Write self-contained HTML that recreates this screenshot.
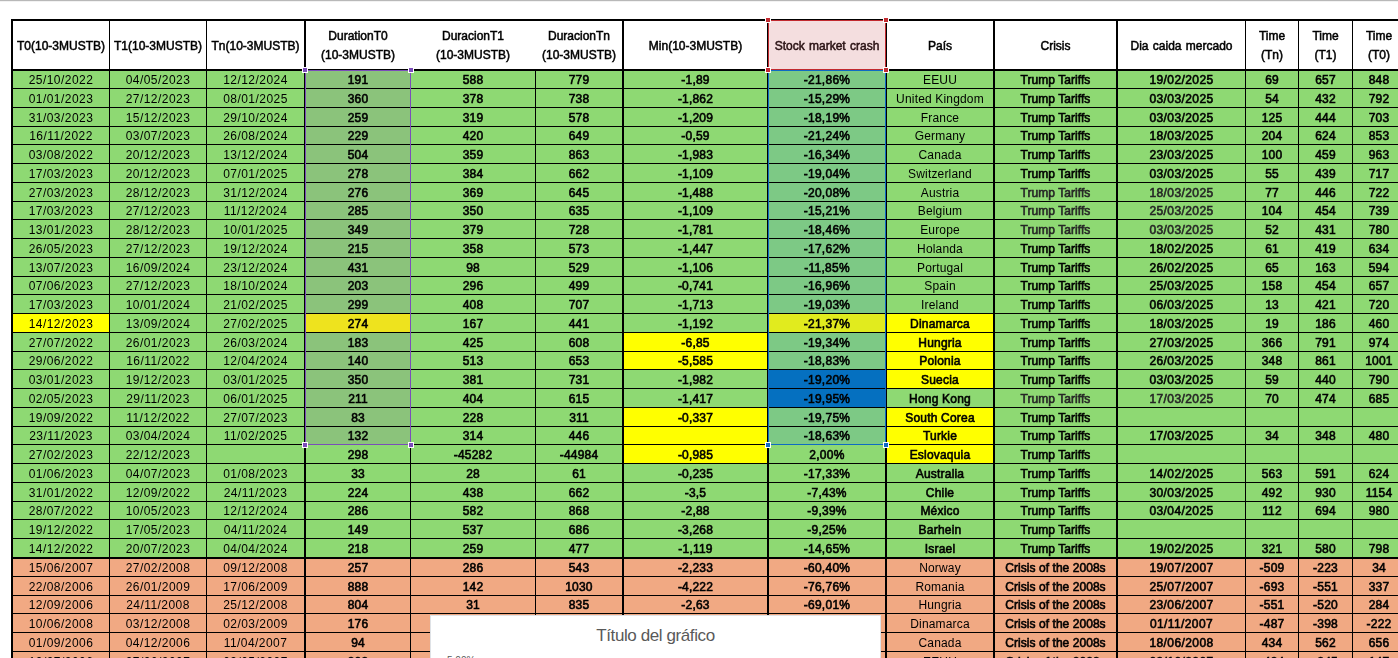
<!DOCTYPE html><html><head><meta charset="utf-8"><style>
*{margin:0;padding:0;box-sizing:border-box}
html,body{width:1398px;height:658px;overflow:hidden;background:#fff}
body{position:relative;font-family:"Liberation Sans",sans-serif;font-size:12px;color:#000}
.a{position:absolute}
.r{position:absolute;left:13px;width:1392px}
.t{position:absolute;top:1px;will-change:transform;text-align:center;white-space:nowrap;font-weight:normal;-webkit-text-stroke:0.6px #000;letter-spacing:-0.3px}
.d{font-weight:normal;-webkit-text-stroke:0;letter-spacing:0.3px}
.n{font-weight:normal;-webkit-text-stroke:0;letter-spacing:-0.1px}
.h{position:absolute;will-change:transform;top:21px;height:48px;padding-top:2px;display:flex;align-items:center;justify-content:center;text-align:center;font-weight:normal;-webkit-text-stroke:0.5px #000;line-height:19px;letter-spacing:0px;word-spacing:1px;white-space:nowrap}
.bk{position:absolute;background:#000}
.hd{position:absolute;background:#fff;border:1px solid #fff}

</style></head><body>
<div class="a" style="left:0;top:0;width:1398px;height:1px;background:#b8b8b8"></div>
<div class="a" style="left:0;top:1px;width:1398px;height:1px;background:#f2f2f2"></div>
<div class="r" style="top:71px;height:17px;background:#8ED973">
<div class="a" style="left:293px;top:0;width:104px;height:17px;background:#8BC37B"></div>
<div class="a" style="left:756px;top:0;width:116px;height:17px;background:#7DC985"></div>
<div class="t d" style="left:0px;width:96px;line-height:17px;letter-spacing:0.45px">25/10/2022</div>
<div class="t d" style="left:97px;width:96px;line-height:17px;letter-spacing:0.45px">04/05/2023</div>
<div class="t d" style="left:194px;width:97px;line-height:17px;letter-spacing:0.45px">12/12/2024</div>
<div class="t" style="left:293px;width:104px;line-height:17px;letter-spacing:0.2px">191</div>
<div class="t" style="left:398px;width:124px;line-height:17px;letter-spacing:0.2px">588</div>
<div class="t" style="left:523px;width:86px;line-height:17px;letter-spacing:0.2px">779</div>
<div class="t" style="left:611px;width:143px;line-height:17px;letter-spacing:0.2px">-1,89</div>
<div class="t" style="left:756px;width:116px;line-height:17px;letter-spacing:0.27px">-21,86%</div>
<div class="t n" style="left:874px;width:106px;line-height:17px;letter-spacing:0.17px">EEUU</div>
<div class="t" style="left:982px;width:121px;line-height:17px;letter-spacing:0.05px">Trump Tariffs</div>
<div class="t" style="left:1105px;width:127px;line-height:17px;letter-spacing:0.4px">19/02/2025</div>
<div class="t" style="left:1233px;width:52px;line-height:17px;letter-spacing:0.2px">69</div>
<div class="t" style="left:1286px;width:53px;line-height:17px;letter-spacing:0.2px">657</div>
<div class="t" style="left:1340px;width:52px;line-height:17px;letter-spacing:0.2px">848</div>
</div>
<div class="r" style="top:89px;height:18px;background:#8ED973">
<div class="a" style="left:293px;top:0;width:104px;height:18px;background:#8BC37B"></div>
<div class="a" style="left:756px;top:0;width:116px;height:18px;background:#7DC985"></div>
<div class="t d" style="left:0px;width:96px;line-height:18px;letter-spacing:0.45px">01/01/2023</div>
<div class="t d" style="left:97px;width:96px;line-height:18px;letter-spacing:0.45px">27/12/2023</div>
<div class="t d" style="left:194px;width:97px;line-height:18px;letter-spacing:0.45px">08/01/2025</div>
<div class="t" style="left:293px;width:104px;line-height:18px;letter-spacing:0.2px">360</div>
<div class="t" style="left:398px;width:124px;line-height:18px;letter-spacing:0.2px">378</div>
<div class="t" style="left:523px;width:86px;line-height:18px;letter-spacing:0.2px">738</div>
<div class="t" style="left:611px;width:143px;line-height:18px;letter-spacing:0.2px">-1,862</div>
<div class="t" style="left:756px;width:116px;line-height:18px;letter-spacing:0.27px">-15,29%</div>
<div class="t n" style="left:874px;width:106px;line-height:18px;letter-spacing:0.17px">United Kingdom</div>
<div class="t" style="left:982px;width:121px;line-height:18px;letter-spacing:0.05px">Trump Tariffs</div>
<div class="t" style="left:1105px;width:127px;line-height:18px;letter-spacing:0.4px">03/03/2025</div>
<div class="t" style="left:1233px;width:52px;line-height:18px;letter-spacing:0.2px">54</div>
<div class="t" style="left:1286px;width:53px;line-height:18px;letter-spacing:0.2px">432</div>
<div class="t" style="left:1340px;width:52px;line-height:18px;letter-spacing:0.2px">792</div>
</div>
<div class="r" style="top:108px;height:18px;background:#8ED973">
<div class="a" style="left:293px;top:0;width:104px;height:18px;background:#8BC37B"></div>
<div class="a" style="left:756px;top:0;width:116px;height:18px;background:#7DC985"></div>
<div class="t d" style="left:0px;width:96px;line-height:18px;letter-spacing:0.45px">31/03/2023</div>
<div class="t d" style="left:97px;width:96px;line-height:18px;letter-spacing:0.45px">15/12/2023</div>
<div class="t d" style="left:194px;width:97px;line-height:18px;letter-spacing:0.45px">29/10/2024</div>
<div class="t" style="left:293px;width:104px;line-height:18px;letter-spacing:0.2px">259</div>
<div class="t" style="left:398px;width:124px;line-height:18px;letter-spacing:0.2px">319</div>
<div class="t" style="left:523px;width:86px;line-height:18px;letter-spacing:0.2px">578</div>
<div class="t" style="left:611px;width:143px;line-height:18px;letter-spacing:0.2px">-1,209</div>
<div class="t" style="left:756px;width:116px;line-height:18px;letter-spacing:0.27px">-18,19%</div>
<div class="t n" style="left:874px;width:106px;line-height:18px;letter-spacing:0.17px">France</div>
<div class="t" style="left:982px;width:121px;line-height:18px;letter-spacing:0.05px">Trump Tariffs</div>
<div class="t" style="left:1105px;width:127px;line-height:18px;letter-spacing:0.4px">03/03/2025</div>
<div class="t" style="left:1233px;width:52px;line-height:18px;letter-spacing:0.2px">125</div>
<div class="t" style="left:1286px;width:53px;line-height:18px;letter-spacing:0.2px">444</div>
<div class="t" style="left:1340px;width:52px;line-height:18px;letter-spacing:0.2px">703</div>
</div>
<div class="r" style="top:127px;height:17px;background:#8ED973">
<div class="a" style="left:293px;top:0;width:104px;height:17px;background:#8BC37B"></div>
<div class="a" style="left:756px;top:0;width:116px;height:17px;background:#7DC985"></div>
<div class="t d" style="left:0px;width:96px;line-height:17px;letter-spacing:0.45px">16/11/2022</div>
<div class="t d" style="left:97px;width:96px;line-height:17px;letter-spacing:0.45px">03/07/2023</div>
<div class="t d" style="left:194px;width:97px;line-height:17px;letter-spacing:0.45px">26/08/2024</div>
<div class="t" style="left:293px;width:104px;line-height:17px;letter-spacing:0.2px">229</div>
<div class="t" style="left:398px;width:124px;line-height:17px;letter-spacing:0.2px">420</div>
<div class="t" style="left:523px;width:86px;line-height:17px;letter-spacing:0.2px">649</div>
<div class="t" style="left:611px;width:143px;line-height:17px;letter-spacing:0.2px">-0,59</div>
<div class="t" style="left:756px;width:116px;line-height:17px;letter-spacing:0.27px">-21,24%</div>
<div class="t n" style="left:874px;width:106px;line-height:17px;letter-spacing:0.17px">Germany</div>
<div class="t" style="left:982px;width:121px;line-height:17px;letter-spacing:0.05px">Trump Tariffs</div>
<div class="t" style="left:1105px;width:127px;line-height:17px;letter-spacing:0.4px">18/03/2025</div>
<div class="t" style="left:1233px;width:52px;line-height:17px;letter-spacing:0.2px">204</div>
<div class="t" style="left:1286px;width:53px;line-height:17px;letter-spacing:0.2px">624</div>
<div class="t" style="left:1340px;width:52px;line-height:17px;letter-spacing:0.2px">853</div>
</div>
<div class="r" style="top:145px;height:18px;background:#8ED973">
<div class="a" style="left:293px;top:0;width:104px;height:18px;background:#8BC37B"></div>
<div class="a" style="left:756px;top:0;width:116px;height:18px;background:#7DC985"></div>
<div class="t d" style="left:0px;width:96px;line-height:18px;letter-spacing:0.45px">03/08/2022</div>
<div class="t d" style="left:97px;width:96px;line-height:18px;letter-spacing:0.45px">20/12/2023</div>
<div class="t d" style="left:194px;width:97px;line-height:18px;letter-spacing:0.45px">13/12/2024</div>
<div class="t" style="left:293px;width:104px;line-height:18px;letter-spacing:0.2px">504</div>
<div class="t" style="left:398px;width:124px;line-height:18px;letter-spacing:0.2px">359</div>
<div class="t" style="left:523px;width:86px;line-height:18px;letter-spacing:0.2px">863</div>
<div class="t" style="left:611px;width:143px;line-height:18px;letter-spacing:0.2px">-1,983</div>
<div class="t" style="left:756px;width:116px;line-height:18px;letter-spacing:0.27px">-16,34%</div>
<div class="t n" style="left:874px;width:106px;line-height:18px;letter-spacing:0.17px">Canada</div>
<div class="t" style="left:982px;width:121px;line-height:18px;letter-spacing:0.05px">Trump Tariffs</div>
<div class="t" style="left:1105px;width:127px;line-height:18px;letter-spacing:0.4px">23/03/2025</div>
<div class="t" style="left:1233px;width:52px;line-height:18px;letter-spacing:0.2px">100</div>
<div class="t" style="left:1286px;width:53px;line-height:18px;letter-spacing:0.2px">459</div>
<div class="t" style="left:1340px;width:52px;line-height:18px;letter-spacing:0.2px">963</div>
</div>
<div class="r" style="top:164px;height:18px;background:#8ED973">
<div class="a" style="left:293px;top:0;width:104px;height:18px;background:#8BC37B"></div>
<div class="a" style="left:756px;top:0;width:116px;height:18px;background:#7DC985"></div>
<div class="t d" style="left:0px;width:96px;line-height:18px;letter-spacing:0.45px">17/03/2023</div>
<div class="t d" style="left:97px;width:96px;line-height:18px;letter-spacing:0.45px">20/12/2023</div>
<div class="t d" style="left:194px;width:97px;line-height:18px;letter-spacing:0.45px">07/01/2025</div>
<div class="t" style="left:293px;width:104px;line-height:18px;letter-spacing:0.2px">278</div>
<div class="t" style="left:398px;width:124px;line-height:18px;letter-spacing:0.2px">384</div>
<div class="t" style="left:523px;width:86px;line-height:18px;letter-spacing:0.2px">662</div>
<div class="t" style="left:611px;width:143px;line-height:18px;letter-spacing:0.2px">-1,109</div>
<div class="t" style="left:756px;width:116px;line-height:18px;letter-spacing:0.27px">-19,04%</div>
<div class="t n" style="left:874px;width:106px;line-height:18px;letter-spacing:0.17px">Switzerland</div>
<div class="t" style="left:982px;width:121px;line-height:18px;letter-spacing:0.05px">Trump Tariffs</div>
<div class="t" style="left:1105px;width:127px;line-height:18px;letter-spacing:0.4px">03/03/2025</div>
<div class="t" style="left:1233px;width:52px;line-height:18px;letter-spacing:0.2px">55</div>
<div class="t" style="left:1286px;width:53px;line-height:18px;letter-spacing:0.2px">439</div>
<div class="t" style="left:1340px;width:52px;line-height:18px;letter-spacing:0.2px">717</div>
</div>
<div class="r" style="top:183px;height:18px;background:#8ED973">
<div class="a" style="left:293px;top:0;width:104px;height:18px;background:#8BC37B"></div>
<div class="a" style="left:756px;top:0;width:116px;height:18px;background:#7DC985"></div>
<div class="t d" style="left:0px;width:96px;line-height:18px;letter-spacing:0.45px">27/03/2023</div>
<div class="t d" style="left:97px;width:96px;line-height:18px;letter-spacing:0.45px">28/12/2023</div>
<div class="t d" style="left:194px;width:97px;line-height:18px;letter-spacing:0.45px">31/12/2024</div>
<div class="t" style="left:293px;width:104px;line-height:18px;letter-spacing:0.2px">276</div>
<div class="t" style="left:398px;width:124px;line-height:18px;letter-spacing:0.2px">369</div>
<div class="t" style="left:523px;width:86px;line-height:18px;letter-spacing:0.2px">645</div>
<div class="t" style="left:611px;width:143px;line-height:18px;letter-spacing:0.2px">-1,488</div>
<div class="t" style="left:756px;width:116px;line-height:18px;letter-spacing:0.27px">-20,08%</div>
<div class="t n" style="left:874px;width:106px;line-height:18px;letter-spacing:0.17px">Austria</div>
<div class="t" style="left:982px;width:121px;line-height:18px;letter-spacing:0.05px;color:#262626;-webkit-text-stroke-color:#262626">Trump Tariffs</div>
<div class="t" style="left:1105px;width:127px;line-height:18px;letter-spacing:0.4px;color:#262626;-webkit-text-stroke-color:#262626">18/03/2025</div>
<div class="t" style="left:1233px;width:52px;line-height:18px;letter-spacing:0.2px">77</div>
<div class="t" style="left:1286px;width:53px;line-height:18px;letter-spacing:0.2px">446</div>
<div class="t" style="left:1340px;width:52px;line-height:18px;letter-spacing:0.2px">722</div>
</div>
<div class="r" style="top:202px;height:17px;background:#8ED973">
<div class="a" style="left:293px;top:0;width:104px;height:17px;background:#8BC37B"></div>
<div class="a" style="left:756px;top:0;width:116px;height:17px;background:#7DC985"></div>
<div class="t d" style="left:0px;width:96px;line-height:17px;letter-spacing:0.45px">17/03/2023</div>
<div class="t d" style="left:97px;width:96px;line-height:17px;letter-spacing:0.45px">27/12/2023</div>
<div class="t d" style="left:194px;width:97px;line-height:17px;letter-spacing:0.45px">11/12/2024</div>
<div class="t" style="left:293px;width:104px;line-height:17px;letter-spacing:0.2px">285</div>
<div class="t" style="left:398px;width:124px;line-height:17px;letter-spacing:0.2px">350</div>
<div class="t" style="left:523px;width:86px;line-height:17px;letter-spacing:0.2px">635</div>
<div class="t" style="left:611px;width:143px;line-height:17px;letter-spacing:0.2px">-1,109</div>
<div class="t" style="left:756px;width:116px;line-height:17px;letter-spacing:0.27px">-15,21%</div>
<div class="t n" style="left:874px;width:106px;line-height:17px;letter-spacing:0.17px">Belgium</div>
<div class="t" style="left:982px;width:121px;line-height:17px;letter-spacing:0.05px;color:#262626;-webkit-text-stroke-color:#262626">Trump Tariffs</div>
<div class="t" style="left:1105px;width:127px;line-height:17px;letter-spacing:0.4px;color:#262626;-webkit-text-stroke-color:#262626">25/03/2025</div>
<div class="t" style="left:1233px;width:52px;line-height:17px;letter-spacing:0.2px">104</div>
<div class="t" style="left:1286px;width:53px;line-height:17px;letter-spacing:0.2px">454</div>
<div class="t" style="left:1340px;width:52px;line-height:17px;letter-spacing:0.2px">739</div>
</div>
<div class="r" style="top:220px;height:18px;background:#8ED973">
<div class="a" style="left:293px;top:0;width:104px;height:18px;background:#8BC37B"></div>
<div class="a" style="left:756px;top:0;width:116px;height:18px;background:#7DC985"></div>
<div class="t d" style="left:0px;width:96px;line-height:18px;letter-spacing:0.45px">13/01/2023</div>
<div class="t d" style="left:97px;width:96px;line-height:18px;letter-spacing:0.45px">28/12/2023</div>
<div class="t d" style="left:194px;width:97px;line-height:18px;letter-spacing:0.45px">10/01/2025</div>
<div class="t" style="left:293px;width:104px;line-height:18px;letter-spacing:0.2px">349</div>
<div class="t" style="left:398px;width:124px;line-height:18px;letter-spacing:0.2px">379</div>
<div class="t" style="left:523px;width:86px;line-height:18px;letter-spacing:0.2px">728</div>
<div class="t" style="left:611px;width:143px;line-height:18px;letter-spacing:0.2px">-1,781</div>
<div class="t" style="left:756px;width:116px;line-height:18px;letter-spacing:0.27px">-18,46%</div>
<div class="t n" style="left:874px;width:106px;line-height:18px;letter-spacing:0.17px">Europe</div>
<div class="t" style="left:982px;width:121px;line-height:18px;letter-spacing:0.05px;color:#262626;-webkit-text-stroke-color:#262626">Trump Tariffs</div>
<div class="t" style="left:1105px;width:127px;line-height:18px;letter-spacing:0.4px;color:#262626;-webkit-text-stroke-color:#262626">03/03/2025</div>
<div class="t" style="left:1233px;width:52px;line-height:18px;letter-spacing:0.2px">52</div>
<div class="t" style="left:1286px;width:53px;line-height:18px;letter-spacing:0.2px">431</div>
<div class="t" style="left:1340px;width:52px;line-height:18px;letter-spacing:0.2px">780</div>
</div>
<div class="r" style="top:239px;height:18px;background:#8ED973">
<div class="a" style="left:293px;top:0;width:104px;height:18px;background:#8BC37B"></div>
<div class="a" style="left:756px;top:0;width:116px;height:18px;background:#7DC985"></div>
<div class="t d" style="left:0px;width:96px;line-height:18px;letter-spacing:0.45px">26/05/2023</div>
<div class="t d" style="left:97px;width:96px;line-height:18px;letter-spacing:0.45px">27/12/2023</div>
<div class="t d" style="left:194px;width:97px;line-height:18px;letter-spacing:0.45px">19/12/2024</div>
<div class="t" style="left:293px;width:104px;line-height:18px;letter-spacing:0.2px">215</div>
<div class="t" style="left:398px;width:124px;line-height:18px;letter-spacing:0.2px">358</div>
<div class="t" style="left:523px;width:86px;line-height:18px;letter-spacing:0.2px">573</div>
<div class="t" style="left:611px;width:143px;line-height:18px;letter-spacing:0.2px">-1,447</div>
<div class="t" style="left:756px;width:116px;line-height:18px;letter-spacing:0.27px">-17,62%</div>
<div class="t n" style="left:874px;width:106px;line-height:18px;letter-spacing:0.17px">Holanda</div>
<div class="t" style="left:982px;width:121px;line-height:18px;letter-spacing:0.05px">Trump Tariffs</div>
<div class="t" style="left:1105px;width:127px;line-height:18px;letter-spacing:0.4px">18/02/2025</div>
<div class="t" style="left:1233px;width:52px;line-height:18px;letter-spacing:0.2px">61</div>
<div class="t" style="left:1286px;width:53px;line-height:18px;letter-spacing:0.2px">419</div>
<div class="t" style="left:1340px;width:52px;line-height:18px;letter-spacing:0.2px">634</div>
</div>
<div class="r" style="top:258px;height:18px;background:#8ED973">
<div class="a" style="left:293px;top:0;width:104px;height:18px;background:#8BC37B"></div>
<div class="a" style="left:756px;top:0;width:116px;height:18px;background:#7DC985"></div>
<div class="t d" style="left:0px;width:96px;line-height:18px;letter-spacing:0.45px">13/07/2023</div>
<div class="t d" style="left:97px;width:96px;line-height:18px;letter-spacing:0.45px">16/09/2024</div>
<div class="t d" style="left:194px;width:97px;line-height:18px;letter-spacing:0.45px">23/12/2024</div>
<div class="t" style="left:293px;width:104px;line-height:18px;letter-spacing:0.2px">431</div>
<div class="t" style="left:398px;width:124px;line-height:18px;letter-spacing:0.2px">98</div>
<div class="t" style="left:523px;width:86px;line-height:18px;letter-spacing:0.2px">529</div>
<div class="t" style="left:611px;width:143px;line-height:18px;letter-spacing:0.2px">-1,106</div>
<div class="t" style="left:756px;width:116px;line-height:18px;letter-spacing:0.27px">-11,85%</div>
<div class="t n" style="left:874px;width:106px;line-height:18px;letter-spacing:0.17px">Portugal</div>
<div class="t" style="left:982px;width:121px;line-height:18px;letter-spacing:0.05px">Trump Tariffs</div>
<div class="t" style="left:1105px;width:127px;line-height:18px;letter-spacing:0.4px">26/02/2025</div>
<div class="t" style="left:1233px;width:52px;line-height:18px;letter-spacing:0.2px">65</div>
<div class="t" style="left:1286px;width:53px;line-height:18px;letter-spacing:0.2px">163</div>
<div class="t" style="left:1340px;width:52px;line-height:18px;letter-spacing:0.2px">594</div>
</div>
<div class="r" style="top:277px;height:17px;background:#8ED973">
<div class="a" style="left:293px;top:0;width:104px;height:17px;background:#8BC37B"></div>
<div class="a" style="left:756px;top:0;width:116px;height:17px;background:#7DC985"></div>
<div class="t d" style="left:0px;width:96px;line-height:17px;letter-spacing:0.45px">07/06/2023</div>
<div class="t d" style="left:97px;width:96px;line-height:17px;letter-spacing:0.45px">27/12/2023</div>
<div class="t d" style="left:194px;width:97px;line-height:17px;letter-spacing:0.45px">18/10/2024</div>
<div class="t" style="left:293px;width:104px;line-height:17px;letter-spacing:0.2px">203</div>
<div class="t" style="left:398px;width:124px;line-height:17px;letter-spacing:0.2px">296</div>
<div class="t" style="left:523px;width:86px;line-height:17px;letter-spacing:0.2px">499</div>
<div class="t" style="left:611px;width:143px;line-height:17px;letter-spacing:0.2px">-0,741</div>
<div class="t" style="left:756px;width:116px;line-height:17px;letter-spacing:0.27px">-16,96%</div>
<div class="t n" style="left:874px;width:106px;line-height:17px;letter-spacing:0.17px">Spain</div>
<div class="t" style="left:982px;width:121px;line-height:17px;letter-spacing:0.05px">Trump Tariffs</div>
<div class="t" style="left:1105px;width:127px;line-height:17px;letter-spacing:0.4px">25/03/2025</div>
<div class="t" style="left:1233px;width:52px;line-height:17px;letter-spacing:0.2px">158</div>
<div class="t" style="left:1286px;width:53px;line-height:17px;letter-spacing:0.2px">454</div>
<div class="t" style="left:1340px;width:52px;line-height:17px;letter-spacing:0.2px">657</div>
</div>
<div class="r" style="top:295px;height:18px;background:#8ED973">
<div class="a" style="left:293px;top:0;width:104px;height:18px;background:#8BC37B"></div>
<div class="a" style="left:756px;top:0;width:116px;height:18px;background:#7DC985"></div>
<div class="t d" style="left:0px;width:96px;line-height:18px;letter-spacing:0.45px">17/03/2023</div>
<div class="t d" style="left:97px;width:96px;line-height:18px;letter-spacing:0.45px">10/01/2024</div>
<div class="t d" style="left:194px;width:97px;line-height:18px;letter-spacing:0.45px">21/02/2025</div>
<div class="t" style="left:293px;width:104px;line-height:18px;letter-spacing:0.2px">299</div>
<div class="t" style="left:398px;width:124px;line-height:18px;letter-spacing:0.2px">408</div>
<div class="t" style="left:523px;width:86px;line-height:18px;letter-spacing:0.2px">707</div>
<div class="t" style="left:611px;width:143px;line-height:18px;letter-spacing:0.2px">-1,713</div>
<div class="t" style="left:756px;width:116px;line-height:18px;letter-spacing:0.27px">-19,03%</div>
<div class="t n" style="left:874px;width:106px;line-height:18px;letter-spacing:0.17px">Ireland</div>
<div class="t" style="left:982px;width:121px;line-height:18px;letter-spacing:0.05px">Trump Tariffs</div>
<div class="t" style="left:1105px;width:127px;line-height:18px;letter-spacing:0.4px">06/03/2025</div>
<div class="t" style="left:1233px;width:52px;line-height:18px;letter-spacing:0.2px">13</div>
<div class="t" style="left:1286px;width:53px;line-height:18px;letter-spacing:0.2px">421</div>
<div class="t" style="left:1340px;width:52px;line-height:18px;letter-spacing:0.2px">720</div>
</div>
<div class="r" style="top:314px;height:18px;background:#8ED973">
<div class="a" style="left:0px;top:0;width:96px;height:18px;background:#FFFF00"></div>
<div class="a" style="left:293px;top:0;width:104px;height:18px;background:#EEE31E"></div>
<div class="a" style="left:756px;top:0;width:116px;height:18px;background:#E1EB1E"></div>
<div class="a" style="left:874px;top:0;width:106px;height:18px;background:#FFFF00"></div>
<div class="t d" style="left:0px;width:96px;line-height:18px;letter-spacing:0.45px">14/12/2023</div>
<div class="t d" style="left:97px;width:96px;line-height:18px;letter-spacing:0.45px">13/09/2024</div>
<div class="t d" style="left:194px;width:97px;line-height:18px;letter-spacing:0.45px">27/02/2025</div>
<div class="t" style="left:293px;width:104px;line-height:18px;letter-spacing:0.2px">274</div>
<div class="t" style="left:398px;width:124px;line-height:18px;letter-spacing:0.2px">167</div>
<div class="t" style="left:523px;width:86px;line-height:18px;letter-spacing:0.2px">441</div>
<div class="t" style="left:611px;width:143px;line-height:18px;letter-spacing:0.2px">-1,192</div>
<div class="t" style="left:756px;width:116px;line-height:18px;letter-spacing:0.27px">-21,37%</div>
<div class="t" style="left:874px;width:106px;line-height:18px;letter-spacing:0.2px">Dinamarca</div>
<div class="t" style="left:982px;width:121px;line-height:18px;letter-spacing:0.05px">Trump Tariffs</div>
<div class="t" style="left:1105px;width:127px;line-height:18px;letter-spacing:0.4px">18/03/2025</div>
<div class="t" style="left:1233px;width:52px;line-height:18px;letter-spacing:0.2px">19</div>
<div class="t" style="left:1286px;width:53px;line-height:18px;letter-spacing:0.2px">186</div>
<div class="t" style="left:1340px;width:52px;line-height:18px;letter-spacing:0.2px">460</div>
</div>
<div class="r" style="top:333px;height:18px;background:#8ED973">
<div class="a" style="left:293px;top:0;width:104px;height:18px;background:#8BC37B"></div>
<div class="a" style="left:611px;top:0;width:143px;height:18px;background:#FFFF00"></div>
<div class="a" style="left:756px;top:0;width:116px;height:18px;background:#7DC985"></div>
<div class="a" style="left:874px;top:0;width:106px;height:18px;background:#FFFF00"></div>
<div class="t d" style="left:0px;width:96px;line-height:18px;letter-spacing:0.45px">27/07/2022</div>
<div class="t d" style="left:97px;width:96px;line-height:18px;letter-spacing:0.45px">26/01/2023</div>
<div class="t d" style="left:194px;width:97px;line-height:18px;letter-spacing:0.45px">26/03/2024</div>
<div class="t" style="left:293px;width:104px;line-height:18px;letter-spacing:0.2px">183</div>
<div class="t" style="left:398px;width:124px;line-height:18px;letter-spacing:0.2px">425</div>
<div class="t" style="left:523px;width:86px;line-height:18px;letter-spacing:0.2px">608</div>
<div class="t" style="left:611px;width:143px;line-height:18px;letter-spacing:0.2px">-6,85</div>
<div class="t" style="left:756px;width:116px;line-height:18px;letter-spacing:0.27px">-19,34%</div>
<div class="t" style="left:874px;width:106px;line-height:18px;letter-spacing:0.2px">Hungria</div>
<div class="t" style="left:982px;width:121px;line-height:18px;letter-spacing:0.05px">Trump Tariffs</div>
<div class="t" style="left:1105px;width:127px;line-height:18px;letter-spacing:0.4px">27/03/2025</div>
<div class="t" style="left:1233px;width:52px;line-height:18px;letter-spacing:0.2px">366</div>
<div class="t" style="left:1286px;width:53px;line-height:18px;letter-spacing:0.2px">791</div>
<div class="t" style="left:1340px;width:52px;line-height:18px;letter-spacing:0.2px">974</div>
</div>
<div class="r" style="top:352px;height:17px;background:#8ED973">
<div class="a" style="left:293px;top:0;width:104px;height:17px;background:#8BC37B"></div>
<div class="a" style="left:611px;top:0;width:143px;height:17px;background:#FFFF00"></div>
<div class="a" style="left:756px;top:0;width:116px;height:17px;background:#7DC985"></div>
<div class="a" style="left:874px;top:0;width:106px;height:17px;background:#FFFF00"></div>
<div class="t d" style="left:0px;width:96px;line-height:17px;letter-spacing:0.45px">29/06/2022</div>
<div class="t d" style="left:97px;width:96px;line-height:17px;letter-spacing:0.45px">16/11/2022</div>
<div class="t d" style="left:194px;width:97px;line-height:17px;letter-spacing:0.45px">12/04/2024</div>
<div class="t" style="left:293px;width:104px;line-height:17px;letter-spacing:0.2px">140</div>
<div class="t" style="left:398px;width:124px;line-height:17px;letter-spacing:0.2px">513</div>
<div class="t" style="left:523px;width:86px;line-height:17px;letter-spacing:0.2px">653</div>
<div class="t" style="left:611px;width:143px;line-height:17px;letter-spacing:0.2px">-5,585</div>
<div class="t" style="left:756px;width:116px;line-height:17px;letter-spacing:0.27px">-18,83%</div>
<div class="t" style="left:874px;width:106px;line-height:17px;letter-spacing:0.2px">Polonia</div>
<div class="t" style="left:982px;width:121px;line-height:17px;letter-spacing:0.05px">Trump Tariffs</div>
<div class="t" style="left:1105px;width:127px;line-height:17px;letter-spacing:0.4px">26/03/2025</div>
<div class="t" style="left:1233px;width:52px;line-height:17px;letter-spacing:0.2px">348</div>
<div class="t" style="left:1286px;width:53px;line-height:17px;letter-spacing:0.2px">861</div>
<div class="t" style="left:1340px;width:52px;line-height:17px;letter-spacing:0.2px">1001</div>
</div>
<div class="r" style="top:370px;height:18px;background:#8ED973">
<div class="a" style="left:293px;top:0;width:104px;height:18px;background:#8BC37B"></div>
<div class="a" style="left:756px;top:0;width:116px;height:18px;background:#0570C0"></div>
<div class="a" style="left:874px;top:0;width:106px;height:18px;background:#FFFF00"></div>
<div class="t d" style="left:0px;width:96px;line-height:18px;letter-spacing:0.45px">03/01/2023</div>
<div class="t d" style="left:97px;width:96px;line-height:18px;letter-spacing:0.45px">19/12/2023</div>
<div class="t d" style="left:194px;width:97px;line-height:18px;letter-spacing:0.45px">03/01/2025</div>
<div class="t" style="left:293px;width:104px;line-height:18px;letter-spacing:0.2px">350</div>
<div class="t" style="left:398px;width:124px;line-height:18px;letter-spacing:0.2px">381</div>
<div class="t" style="left:523px;width:86px;line-height:18px;letter-spacing:0.2px">731</div>
<div class="t" style="left:611px;width:143px;line-height:18px;letter-spacing:0.2px">-1,982</div>
<div class="t" style="left:756px;width:116px;line-height:18px;letter-spacing:0.27px">-19,20%</div>
<div class="t" style="left:874px;width:106px;line-height:18px;letter-spacing:0.2px">Suecia</div>
<div class="t" style="left:982px;width:121px;line-height:18px;letter-spacing:0.05px">Trump Tariffs</div>
<div class="t" style="left:1105px;width:127px;line-height:18px;letter-spacing:0.4px">03/03/2025</div>
<div class="t" style="left:1233px;width:52px;line-height:18px;letter-spacing:0.2px">59</div>
<div class="t" style="left:1286px;width:53px;line-height:18px;letter-spacing:0.2px">440</div>
<div class="t" style="left:1340px;width:52px;line-height:18px;letter-spacing:0.2px">790</div>
</div>
<div class="r" style="top:389px;height:18px;background:#8ED973">
<div class="a" style="left:293px;top:0;width:104px;height:18px;background:#8BC37B"></div>
<div class="a" style="left:756px;top:0;width:116px;height:18px;background:#0570C0"></div>
<div class="t d" style="left:0px;width:96px;line-height:18px;letter-spacing:0.45px">02/05/2023</div>
<div class="t d" style="left:97px;width:96px;line-height:18px;letter-spacing:0.45px">29/11/2023</div>
<div class="t d" style="left:194px;width:97px;line-height:18px;letter-spacing:0.45px">06/01/2025</div>
<div class="t" style="left:293px;width:104px;line-height:18px;letter-spacing:0.2px">211</div>
<div class="t" style="left:398px;width:124px;line-height:18px;letter-spacing:0.2px">404</div>
<div class="t" style="left:523px;width:86px;line-height:18px;letter-spacing:0.2px">615</div>
<div class="t" style="left:611px;width:143px;line-height:18px;letter-spacing:0.2px">-1,417</div>
<div class="t" style="left:756px;width:116px;line-height:18px;letter-spacing:0.27px">-19,95%</div>
<div class="t" style="left:874px;width:106px;line-height:18px;letter-spacing:0.2px">Hong Kong</div>
<div class="t" style="left:982px;width:121px;line-height:18px;letter-spacing:0.05px;color:#262626;-webkit-text-stroke-color:#262626">Trump Tariffs</div>
<div class="t" style="left:1105px;width:127px;line-height:18px;letter-spacing:0.4px;color:#262626;-webkit-text-stroke-color:#262626">17/03/2025</div>
<div class="t" style="left:1233px;width:52px;line-height:18px;letter-spacing:0.2px">70</div>
<div class="t" style="left:1286px;width:53px;line-height:18px;letter-spacing:0.2px">474</div>
<div class="t" style="left:1340px;width:52px;line-height:18px;letter-spacing:0.2px">685</div>
</div>
<div class="r" style="top:408px;height:18px;background:#8ED973">
<div class="a" style="left:293px;top:0;width:104px;height:18px;background:#8BC37B"></div>
<div class="a" style="left:611px;top:0;width:143px;height:18px;background:#FFFF00"></div>
<div class="a" style="left:756px;top:0;width:116px;height:18px;background:#7DC985"></div>
<div class="a" style="left:874px;top:0;width:106px;height:18px;background:#FFFF00"></div>
<div class="t d" style="left:0px;width:96px;line-height:18px;letter-spacing:0.45px">19/09/2022</div>
<div class="t d" style="left:97px;width:96px;line-height:18px;letter-spacing:0.45px">11/12/2022</div>
<div class="t d" style="left:194px;width:97px;line-height:18px;letter-spacing:0.45px">27/07/2023</div>
<div class="t" style="left:293px;width:104px;line-height:18px;letter-spacing:0.2px">83</div>
<div class="t" style="left:398px;width:124px;line-height:18px;letter-spacing:0.2px">228</div>
<div class="t" style="left:523px;width:86px;line-height:18px;letter-spacing:0.2px">311</div>
<div class="t" style="left:611px;width:143px;line-height:18px;letter-spacing:0.2px">-0,337</div>
<div class="t" style="left:756px;width:116px;line-height:18px;letter-spacing:0.27px">-19,75%</div>
<div class="t" style="left:874px;width:106px;line-height:18px;letter-spacing:0.2px">South Corea</div>
<div class="t" style="left:982px;width:121px;line-height:18px;letter-spacing:0.05px">Trump Tariffs</div>
</div>
<div class="r" style="top:427px;height:17px;background:#8ED973">
<div class="a" style="left:293px;top:0;width:104px;height:17px;background:#8BC37B"></div>
<div class="a" style="left:611px;top:0;width:143px;height:17px;background:#FFFF00"></div>
<div class="a" style="left:756px;top:0;width:116px;height:17px;background:#7DC985"></div>
<div class="a" style="left:874px;top:0;width:106px;height:17px;background:#FFFF00"></div>
<div class="t d" style="left:0px;width:96px;line-height:17px;letter-spacing:0.45px">23/11/2023</div>
<div class="t d" style="left:97px;width:96px;line-height:17px;letter-spacing:0.45px">03/04/2024</div>
<div class="t d" style="left:194px;width:97px;line-height:17px;letter-spacing:0.45px">11/02/2025</div>
<div class="t" style="left:293px;width:104px;line-height:17px;letter-spacing:0.2px">132</div>
<div class="t" style="left:398px;width:124px;line-height:17px;letter-spacing:0.2px">314</div>
<div class="t" style="left:523px;width:86px;line-height:17px;letter-spacing:0.2px">446</div>
<div class="t" style="left:756px;width:116px;line-height:17px;letter-spacing:0.27px">-18,63%</div>
<div class="t" style="left:874px;width:106px;line-height:17px;letter-spacing:0.2px">Turkie</div>
<div class="t" style="left:982px;width:121px;line-height:17px;letter-spacing:0.05px">Trump Tariffs</div>
<div class="t" style="left:1105px;width:127px;line-height:17px;letter-spacing:0.4px">17/03/2025</div>
<div class="t" style="left:1233px;width:52px;line-height:17px;letter-spacing:0.2px">34</div>
<div class="t" style="left:1286px;width:53px;line-height:17px;letter-spacing:0.2px">348</div>
<div class="t" style="left:1340px;width:52px;line-height:17px;letter-spacing:0.2px">480</div>
</div>
<div class="r" style="top:445px;height:18px;background:#8ED973">
<div class="a" style="left:611px;top:0;width:143px;height:18px;background:#FFFF00"></div>
<div class="a" style="left:874px;top:0;width:106px;height:18px;background:#FFFF00"></div>
<div class="t d" style="left:0px;width:96px;line-height:18px;letter-spacing:0.45px">27/02/2023</div>
<div class="t d" style="left:97px;width:96px;line-height:18px;letter-spacing:0.45px">22/12/2023</div>
<div class="t" style="left:293px;width:104px;line-height:18px;letter-spacing:0.2px">298</div>
<div class="t" style="left:398px;width:124px;line-height:18px;letter-spacing:0.2px">-45282</div>
<div class="t" style="left:523px;width:86px;line-height:18px;letter-spacing:0.2px">-44984</div>
<div class="t" style="left:611px;width:143px;line-height:18px;letter-spacing:0.2px">-0,985</div>
<div class="t" style="left:756px;width:116px;line-height:18px;letter-spacing:0.27px">2,00%</div>
<div class="t" style="left:874px;width:106px;line-height:18px;letter-spacing:0.2px">Eslovaquia</div>
<div class="t" style="left:982px;width:121px;line-height:18px;letter-spacing:0.05px">Trump Tariffs</div>
</div>
<div class="r" style="top:464px;height:18px;background:#8ED973">
<div class="t d" style="left:0px;width:96px;line-height:18px;letter-spacing:0.45px">01/06/2023</div>
<div class="t d" style="left:97px;width:96px;line-height:18px;letter-spacing:0.45px">04/07/2023</div>
<div class="t d" style="left:194px;width:97px;line-height:18px;letter-spacing:0.45px">01/08/2023</div>
<div class="t" style="left:293px;width:104px;line-height:18px;letter-spacing:0.2px">33</div>
<div class="t" style="left:398px;width:124px;line-height:18px;letter-spacing:0.2px">28</div>
<div class="t" style="left:523px;width:86px;line-height:18px;letter-spacing:0.2px">61</div>
<div class="t" style="left:611px;width:143px;line-height:18px;letter-spacing:0.2px">-0,235</div>
<div class="t" style="left:756px;width:116px;line-height:18px;letter-spacing:0.27px">-17,33%</div>
<div class="t" style="left:874px;width:106px;line-height:18px;letter-spacing:0.2px">Australia</div>
<div class="t" style="left:982px;width:121px;line-height:18px;letter-spacing:0.05px">Trump Tariffs</div>
<div class="t" style="left:1105px;width:127px;line-height:18px;letter-spacing:0.4px">14/02/2025</div>
<div class="t" style="left:1233px;width:52px;line-height:18px;letter-spacing:0.2px">563</div>
<div class="t" style="left:1286px;width:53px;line-height:18px;letter-spacing:0.2px">591</div>
<div class="t" style="left:1340px;width:52px;line-height:18px;letter-spacing:0.2px">624</div>
</div>
<div class="r" style="top:483px;height:18px;background:#8ED973">
<div class="t d" style="left:0px;width:96px;line-height:18px;letter-spacing:0.45px">31/01/2022</div>
<div class="t d" style="left:97px;width:96px;line-height:18px;letter-spacing:0.45px">12/09/2022</div>
<div class="t d" style="left:194px;width:97px;line-height:18px;letter-spacing:0.45px">24/11/2023</div>
<div class="t" style="left:293px;width:104px;line-height:18px;letter-spacing:0.2px">224</div>
<div class="t" style="left:398px;width:124px;line-height:18px;letter-spacing:0.2px">438</div>
<div class="t" style="left:523px;width:86px;line-height:18px;letter-spacing:0.2px">662</div>
<div class="t" style="left:611px;width:143px;line-height:18px;letter-spacing:0.2px">-3,5</div>
<div class="t" style="left:756px;width:116px;line-height:18px;letter-spacing:0.27px">-7,43%</div>
<div class="t" style="left:874px;width:106px;line-height:18px;letter-spacing:0.2px">Chile</div>
<div class="t" style="left:982px;width:121px;line-height:18px;letter-spacing:0.05px">Trump Tariffs</div>
<div class="t" style="left:1105px;width:127px;line-height:18px;letter-spacing:0.4px">30/03/2025</div>
<div class="t" style="left:1233px;width:52px;line-height:18px;letter-spacing:0.2px">492</div>
<div class="t" style="left:1286px;width:53px;line-height:18px;letter-spacing:0.2px">930</div>
<div class="t" style="left:1340px;width:52px;line-height:18px;letter-spacing:0.2px">1154</div>
</div>
<div class="r" style="top:502px;height:17px;background:#8ED973">
<div class="t d" style="left:0px;width:96px;line-height:17px;letter-spacing:0.45px">28/07/2022</div>
<div class="t d" style="left:97px;width:96px;line-height:17px;letter-spacing:0.45px">10/05/2023</div>
<div class="t d" style="left:194px;width:97px;line-height:17px;letter-spacing:0.45px">12/12/2024</div>
<div class="t" style="left:293px;width:104px;line-height:17px;letter-spacing:0.2px">286</div>
<div class="t" style="left:398px;width:124px;line-height:17px;letter-spacing:0.2px">582</div>
<div class="t" style="left:523px;width:86px;line-height:17px;letter-spacing:0.2px">868</div>
<div class="t" style="left:611px;width:143px;line-height:17px;letter-spacing:0.2px">-2,88</div>
<div class="t" style="left:756px;width:116px;line-height:17px;letter-spacing:0.27px">-9,39%</div>
<div class="t" style="left:874px;width:106px;line-height:17px;letter-spacing:0.2px">México</div>
<div class="t" style="left:982px;width:121px;line-height:17px;letter-spacing:0.05px">Trump Tariffs</div>
<div class="t" style="left:1105px;width:127px;line-height:17px;letter-spacing:0.4px">03/04/2025</div>
<div class="t" style="left:1233px;width:52px;line-height:17px;letter-spacing:0.2px">112</div>
<div class="t" style="left:1286px;width:53px;line-height:17px;letter-spacing:0.2px">694</div>
<div class="t" style="left:1340px;width:52px;line-height:17px;letter-spacing:0.2px">980</div>
</div>
<div class="r" style="top:520px;height:18px;background:#8ED973">
<div class="t d" style="left:0px;width:96px;line-height:18px;letter-spacing:0.45px">19/12/2022</div>
<div class="t d" style="left:97px;width:96px;line-height:18px;letter-spacing:0.45px">17/05/2023</div>
<div class="t d" style="left:194px;width:97px;line-height:18px;letter-spacing:0.45px">04/11/2024</div>
<div class="t" style="left:293px;width:104px;line-height:18px;letter-spacing:0.2px">149</div>
<div class="t" style="left:398px;width:124px;line-height:18px;letter-spacing:0.2px">537</div>
<div class="t" style="left:523px;width:86px;line-height:18px;letter-spacing:0.2px">686</div>
<div class="t" style="left:611px;width:143px;line-height:18px;letter-spacing:0.2px">-3,268</div>
<div class="t" style="left:756px;width:116px;line-height:18px;letter-spacing:0.27px">-9,25%</div>
<div class="t" style="left:874px;width:106px;line-height:18px;letter-spacing:0.2px">Barhein</div>
<div class="t" style="left:982px;width:121px;line-height:18px;letter-spacing:0.05px">Trump Tariffs</div>
</div>
<div class="r" style="top:539px;height:18px;background:#8ED973">
<div class="t d" style="left:0px;width:96px;line-height:18px;letter-spacing:0.45px">14/12/2022</div>
<div class="t d" style="left:97px;width:96px;line-height:18px;letter-spacing:0.45px">20/07/2023</div>
<div class="t d" style="left:194px;width:97px;line-height:18px;letter-spacing:0.45px">04/04/2024</div>
<div class="t" style="left:293px;width:104px;line-height:18px;letter-spacing:0.2px">218</div>
<div class="t" style="left:398px;width:124px;line-height:18px;letter-spacing:0.2px">259</div>
<div class="t" style="left:523px;width:86px;line-height:18px;letter-spacing:0.2px">477</div>
<div class="t" style="left:611px;width:143px;line-height:18px;letter-spacing:0.2px">-1,119</div>
<div class="t" style="left:756px;width:116px;line-height:18px;letter-spacing:0.27px">-14,65%</div>
<div class="t" style="left:874px;width:106px;line-height:18px;letter-spacing:0.2px">Israel</div>
<div class="t" style="left:982px;width:121px;line-height:18px;letter-spacing:0.05px">Trump Tariffs</div>
<div class="t" style="left:1105px;width:127px;line-height:18px;letter-spacing:0.4px">19/02/2025</div>
<div class="t" style="left:1233px;width:52px;line-height:18px;letter-spacing:0.2px">321</div>
<div class="t" style="left:1286px;width:53px;line-height:18px;letter-spacing:0.2px">580</div>
<div class="t" style="left:1340px;width:52px;line-height:18px;letter-spacing:0.2px">798</div>
</div>
<div class="r" style="top:559px;height:17px;background:#F1A983">
<div class="t d" style="left:0px;width:96px;line-height:17px;letter-spacing:0.45px">15/06/2007</div>
<div class="t d" style="left:97px;width:96px;line-height:17px;letter-spacing:0.45px">27/02/2008</div>
<div class="t d" style="left:194px;width:97px;line-height:17px;letter-spacing:0.45px">09/12/2008</div>
<div class="t" style="left:293px;width:104px;line-height:17px;letter-spacing:0.2px">257</div>
<div class="t" style="left:398px;width:124px;line-height:17px;letter-spacing:0.2px">286</div>
<div class="t" style="left:523px;width:86px;line-height:17px;letter-spacing:0.2px">543</div>
<div class="t" style="left:611px;width:143px;line-height:17px;letter-spacing:0.2px">-2,233</div>
<div class="t" style="left:756px;width:116px;line-height:17px;letter-spacing:0.27px">-60,40%</div>
<div class="t n" style="left:874px;width:106px;line-height:17px;letter-spacing:0.17px">Norway</div>
<div class="t" style="left:982px;width:121px;line-height:17px;letter-spacing:0.05px">Crisis of the 2008s</div>
<div class="t" style="left:1105px;width:127px;line-height:17px;letter-spacing:0.4px">19/07/2007</div>
<div class="t" style="left:1233px;width:52px;line-height:17px;letter-spacing:0.2px">-509</div>
<div class="t" style="left:1286px;width:53px;line-height:17px;letter-spacing:0.2px">-223</div>
<div class="t" style="left:1340px;width:52px;line-height:17px;letter-spacing:0.2px">34</div>
</div>
<div class="r" style="top:577px;height:18px;background:#F1A983">
<div class="t d" style="left:0px;width:96px;line-height:18px;letter-spacing:0.45px">22/08/2006</div>
<div class="t d" style="left:97px;width:96px;line-height:18px;letter-spacing:0.45px">26/01/2009</div>
<div class="t d" style="left:194px;width:97px;line-height:18px;letter-spacing:0.45px">17/06/2009</div>
<div class="t" style="left:293px;width:104px;line-height:18px;letter-spacing:0.2px">888</div>
<div class="t" style="left:398px;width:124px;line-height:18px;letter-spacing:0.2px">142</div>
<div class="t" style="left:523px;width:86px;line-height:18px;letter-spacing:0.2px">1030</div>
<div class="t" style="left:611px;width:143px;line-height:18px;letter-spacing:0.2px">-4,222</div>
<div class="t" style="left:756px;width:116px;line-height:18px;letter-spacing:0.27px">-76,76%</div>
<div class="t n" style="left:874px;width:106px;line-height:18px;letter-spacing:0.17px">Romania</div>
<div class="t" style="left:982px;width:121px;line-height:18px;letter-spacing:0.05px">Crisis of the 2008s</div>
<div class="t" style="left:1105px;width:127px;line-height:18px;letter-spacing:0.4px">25/07/2007</div>
<div class="t" style="left:1233px;width:52px;line-height:18px;letter-spacing:0.2px">-693</div>
<div class="t" style="left:1286px;width:53px;line-height:18px;letter-spacing:0.2px">-551</div>
<div class="t" style="left:1340px;width:52px;line-height:18px;letter-spacing:0.2px">337</div>
</div>
<div class="r" style="top:596px;height:17px;background:#F1A983">
<div class="t d" style="left:0px;width:96px;line-height:17px;letter-spacing:0.45px">12/09/2006</div>
<div class="t d" style="left:97px;width:96px;line-height:17px;letter-spacing:0.45px">24/11/2008</div>
<div class="t d" style="left:194px;width:97px;line-height:17px;letter-spacing:0.45px">25/12/2008</div>
<div class="t" style="left:293px;width:104px;line-height:17px;letter-spacing:0.2px">804</div>
<div class="t" style="left:398px;width:124px;line-height:17px;letter-spacing:0.2px">31</div>
<div class="t" style="left:523px;width:86px;line-height:17px;letter-spacing:0.2px">835</div>
<div class="t" style="left:611px;width:143px;line-height:17px;letter-spacing:0.2px">-2,63</div>
<div class="t" style="left:756px;width:116px;line-height:17px;letter-spacing:0.27px">-69,01%</div>
<div class="t n" style="left:874px;width:106px;line-height:17px;letter-spacing:0.17px">Hungria</div>
<div class="t" style="left:982px;width:121px;line-height:17px;letter-spacing:0.05px">Crisis of the 2008s</div>
<div class="t" style="left:1105px;width:127px;line-height:17px;letter-spacing:0.4px">23/06/2007</div>
<div class="t" style="left:1233px;width:52px;line-height:17px;letter-spacing:0.2px">-551</div>
<div class="t" style="left:1286px;width:53px;line-height:17px;letter-spacing:0.2px">-520</div>
<div class="t" style="left:1340px;width:52px;line-height:17px;letter-spacing:0.2px">284</div>
</div>
<div class="r" style="top:614px;height:18px;background:#F1A983">
<div class="t d" style="left:0px;width:96px;line-height:18px;letter-spacing:0.45px">10/06/2008</div>
<div class="t d" style="left:97px;width:96px;line-height:18px;letter-spacing:0.45px">03/12/2008</div>
<div class="t d" style="left:194px;width:97px;line-height:18px;letter-spacing:0.45px">02/03/2009</div>
<div class="t" style="left:293px;width:104px;line-height:18px;letter-spacing:0.2px">176</div>
<div class="t n" style="left:874px;width:106px;line-height:18px;letter-spacing:0.17px">Dinamarca</div>
<div class="t" style="left:982px;width:121px;line-height:18px;letter-spacing:0.05px">Crisis of the 2008s</div>
<div class="t" style="left:1105px;width:127px;line-height:18px;letter-spacing:0.4px">01/11/2007</div>
<div class="t" style="left:1233px;width:52px;line-height:18px;letter-spacing:0.2px">-487</div>
<div class="t" style="left:1286px;width:53px;line-height:18px;letter-spacing:0.2px">-398</div>
<div class="t" style="left:1340px;width:52px;line-height:18px;letter-spacing:0.2px">-222</div>
</div>
<div class="r" style="top:633px;height:18px;background:#F1A983">
<div class="t d" style="left:0px;width:96px;line-height:18px;letter-spacing:0.45px">01/09/2006</div>
<div class="t d" style="left:97px;width:96px;line-height:18px;letter-spacing:0.45px">04/12/2006</div>
<div class="t d" style="left:194px;width:97px;line-height:18px;letter-spacing:0.45px">11/04/2007</div>
<div class="t" style="left:293px;width:104px;line-height:18px;letter-spacing:0.2px">94</div>
<div class="t n" style="left:874px;width:106px;line-height:18px;letter-spacing:0.17px">Canada</div>
<div class="t" style="left:982px;width:121px;line-height:18px;letter-spacing:0.05px">Crisis of the 2008s</div>
<div class="t" style="left:1105px;width:127px;line-height:18px;letter-spacing:0.4px">18/06/2008</div>
<div class="t" style="left:1233px;width:52px;line-height:18px;letter-spacing:0.2px">434</div>
<div class="t" style="left:1286px;width:53px;line-height:18px;letter-spacing:0.2px">562</div>
<div class="t" style="left:1340px;width:52px;line-height:18px;letter-spacing:0.2px">656</div>
</div>
<div class="r" style="top:652px;height:18px;background:#F1A983">
<div class="t d" style="left:0px;width:96px;line-height:18px;letter-spacing:0.45px">10/07/2006</div>
<div class="t d" style="left:97px;width:96px;line-height:18px;letter-spacing:0.45px">07/06/2007</div>
<div class="t d" style="left:194px;width:97px;line-height:18px;letter-spacing:0.45px">09/05/2007</div>
<div class="t" style="left:293px;width:104px;line-height:18px;letter-spacing:0.2px">303</div>
<div class="t n" style="left:874px;width:106px;line-height:18px;letter-spacing:0.17px">EEUU</div>
<div class="t" style="left:982px;width:121px;line-height:18px;letter-spacing:0.05px">Crisis of the 2008s</div>
<div class="t" style="left:1105px;width:127px;line-height:18px;letter-spacing:0.4px">09/10/2007</div>
<div class="t" style="left:1233px;width:52px;line-height:18px;letter-spacing:0.2px">-434</div>
<div class="t" style="left:1286px;width:53px;line-height:18px;letter-spacing:0.2px">-245</div>
<div class="t" style="left:1340px;width:52px;line-height:18px;letter-spacing:0.2px">147</div>
</div>
<div class="a" style="left:13px;top:21px;width:1392px;height:48px;background:#fff"></div>
<div class="a" style="left:769px;top:21px;width:116px;height:48px;background:#F4DEDF"></div>
<div class="h" style="left:13px;width:96px">T0(10-3MUSTB)</div>
<div class="h" style="left:110px;width:96px">T1(10-3MUSTB)</div>
<div class="h" style="left:207px;width:97px">Tn(10-3MUSTB)</div>
<div class="h" style="left:306px;width:104px">DurationT0<br>(10-3MUSTB)</div>
<div class="h" style="left:411px;width:124px">DuracionT1<br>(10-3MUSTB)</div>
<div class="h" style="left:536px;width:86px">DuracionTn<br>(10-3MUSTB)</div>
<div class="h" style="left:624px;width:143px">Min(10-3MUSTB)</div>
<div class="h" style="left:769px;width:116px;color:#2a1214;-webkit-text-stroke-color:#2a1214">Stock market crash</div>
<div class="h" style="left:887px;width:106px">País</div>
<div class="h" style="left:995px;width:121px">Crisis</div>
<div class="h" style="left:1118px;width:127px">Dia caida mercado</div>
<div class="h" style="left:1246px;width:52px">Time<br>(Tn)</div>
<div class="h" style="left:1299px;width:53px">Time<br>(T1)</div>
<div class="h" style="left:1353px;width:52px">Time<br>(T0)</div>
<div class="bk" style="left:11px;top:19px;width:1400px;height:2px"></div>
<div class="bk" style="left:11px;top:69px;width:1400px;height:2px"></div>
<div class="bk" style="left:11px;top:88px;width:1400px;height:1px"></div>
<div class="bk" style="left:11px;top:107px;width:1400px;height:1px"></div>
<div class="bk" style="left:11px;top:126px;width:1400px;height:1px"></div>
<div class="bk" style="left:11px;top:144px;width:1400px;height:1px"></div>
<div class="bk" style="left:11px;top:163px;width:1400px;height:1px"></div>
<div class="bk" style="left:11px;top:182px;width:1400px;height:1px"></div>
<div class="bk" style="left:11px;top:201px;width:1400px;height:1px"></div>
<div class="bk" style="left:11px;top:219px;width:1400px;height:1px"></div>
<div class="bk" style="left:11px;top:238px;width:1400px;height:1px"></div>
<div class="bk" style="left:11px;top:257px;width:1400px;height:1px"></div>
<div class="bk" style="left:11px;top:276px;width:1400px;height:1px"></div>
<div class="bk" style="left:11px;top:294px;width:1400px;height:1px"></div>
<div class="bk" style="left:11px;top:313px;width:1400px;height:1px"></div>
<div class="bk" style="left:11px;top:332px;width:1400px;height:1px"></div>
<div class="bk" style="left:11px;top:351px;width:1400px;height:1px"></div>
<div class="bk" style="left:11px;top:369px;width:1400px;height:1px"></div>
<div class="bk" style="left:11px;top:388px;width:1400px;height:1px"></div>
<div class="bk" style="left:11px;top:407px;width:1400px;height:1px"></div>
<div class="bk" style="left:11px;top:426px;width:1400px;height:1px"></div>
<div class="bk" style="left:11px;top:444px;width:1400px;height:1px"></div>
<div class="bk" style="left:11px;top:463px;width:1400px;height:1px"></div>
<div class="bk" style="left:11px;top:482px;width:1400px;height:1px"></div>
<div class="bk" style="left:11px;top:501px;width:1400px;height:1px"></div>
<div class="bk" style="left:11px;top:519px;width:1400px;height:1px"></div>
<div class="bk" style="left:11px;top:538px;width:1400px;height:1px"></div>
<div class="bk" style="left:11px;top:557px;width:1400px;height:2px"></div>
<div class="bk" style="left:11px;top:576px;width:1400px;height:1px"></div>
<div class="bk" style="left:11px;top:595px;width:1400px;height:1px"></div>
<div class="bk" style="left:11px;top:613px;width:1400px;height:1px"></div>
<div class="bk" style="left:11px;top:632px;width:1400px;height:1px"></div>
<div class="bk" style="left:11px;top:651px;width:1400px;height:1px"></div>
<div class="bk" style="left:11px;top:670px;width:1400px;height:1px"></div>
<div class="bk" style="left:11px;top:19px;width:2px;height:681px"></div>
<div class="bk" style="left:109px;top:19px;width:1px;height:681px"></div>
<div class="bk" style="left:206px;top:19px;width:1px;height:681px"></div>
<div class="bk" style="left:304px;top:19px;width:2px;height:681px"></div>
<div class="bk" style="left:410px;top:71px;width:1px;height:629px"></div>
<div class="bk" style="left:535px;top:71px;width:1px;height:629px"></div>
<div class="bk" style="left:622px;top:19px;width:2px;height:681px"></div>
<div class="bk" style="left:767px;top:19px;width:2px;height:681px"></div>
<div class="bk" style="left:885px;top:19px;width:2px;height:681px"></div>
<div class="bk" style="left:993px;top:19px;width:2px;height:681px"></div>
<div class="bk" style="left:1116px;top:19px;width:2px;height:681px"></div>
<div class="bk" style="left:1245px;top:19px;width:1px;height:681px"></div>
<div class="bk" style="left:1298px;top:19px;width:1px;height:681px"></div>
<div class="bk" style="left:1352px;top:19px;width:1px;height:681px"></div>
<div class="a" style="left:305px;top:70px;width:106px;height:1px;background:#7B4DB9"></div>
<div class="a" style="left:305px;top:444px;width:106px;height:1px;background:#7B4DB9"></div>
<div class="a" style="left:305px;top:70px;width:1px;height:375px;background:#7B4DB9"></div>
<div class="a" style="left:410px;top:70px;width:1px;height:375px;background:#7B4DB9"></div>
<div class="a" style="left:768px;top:70px;width:118px;height:1px;background:#0f6ac4"></div>
<div class="a" style="left:768px;top:444px;width:118px;height:1px;background:#0f6ac4"></div>
<div class="a" style="left:768px;top:70px;width:1px;height:375px;background:#0f6ac4"></div>
<div class="a" style="left:885px;top:70px;width:1px;height:375px;background:#0f6ac4"></div>
<div class="a" style="left:768px;top:20px;width:118px;height:1px;background:#C22A30"></div>
<div class="a" style="left:768px;top:69px;width:118px;height:1px;background:#C22A30"></div>
<div class="a" style="left:768px;top:20px;width:1px;height:50px;background:#C22A30"></div>
<div class="a" style="left:885px;top:20px;width:1px;height:50px;background:#C22A30"></div>
<div class="a" style="left:302px;top:67px;width:6px;height:6px;background:#fff"></div>
<div class="a" style="left:303px;top:68px;width:4px;height:4px;background:#7B4DB9"></div>
<div class="a" style="left:408px;top:67px;width:6px;height:6px;background:#fff"></div>
<div class="a" style="left:409px;top:68px;width:4px;height:4px;background:#7B4DB9"></div>
<div class="a" style="left:302px;top:442px;width:6px;height:6px;background:#fff"></div>
<div class="a" style="left:303px;top:443px;width:4px;height:4px;background:#7B4DB9"></div>
<div class="a" style="left:408px;top:442px;width:6px;height:6px;background:#fff"></div>
<div class="a" style="left:409px;top:443px;width:4px;height:4px;background:#7B4DB9"></div>
<div class="a" style="left:765px;top:442px;width:6px;height:6px;background:#fff"></div>
<div class="a" style="left:766px;top:443px;width:4px;height:4px;background:#0f6ac4"></div>
<div class="a" style="left:883px;top:442px;width:6px;height:6px;background:#fff"></div>
<div class="a" style="left:884px;top:443px;width:4px;height:4px;background:#0f6ac4"></div>
<div class="a" style="left:765px;top:17px;width:6px;height:6px;background:#fff"></div>
<div class="a" style="left:766px;top:18px;width:4px;height:4px;background:#C22A30"></div>
<div class="a" style="left:883px;top:17px;width:6px;height:6px;background:#fff"></div>
<div class="a" style="left:884px;top:18px;width:4px;height:4px;background:#C22A30"></div>
<div class="a" style="left:765px;top:67px;width:6px;height:6px;background:#fff"></div>
<div class="a" style="left:766px;top:68px;width:4px;height:4px;background:#C22A30"></div>
<div class="a" style="left:883px;top:67px;width:6px;height:6px;background:#fff"></div>
<div class="a" style="left:884px;top:68px;width:4px;height:4px;background:#C22A30"></div>
<div class="a" style="left:430px;top:615px;width:451px;height:60px;background:#fff;border:1px solid #dfe2e6"></div>
<div class="a" style="left:430px;top:626px;width:451px;text-align:center;font-size:17px;color:#595959;letter-spacing:-0.4px">Título del gráfico</div>
<div class="a" style="left:447px;top:655px;font-size:10px;color:#595959">5,00%</div>
</body></html>
